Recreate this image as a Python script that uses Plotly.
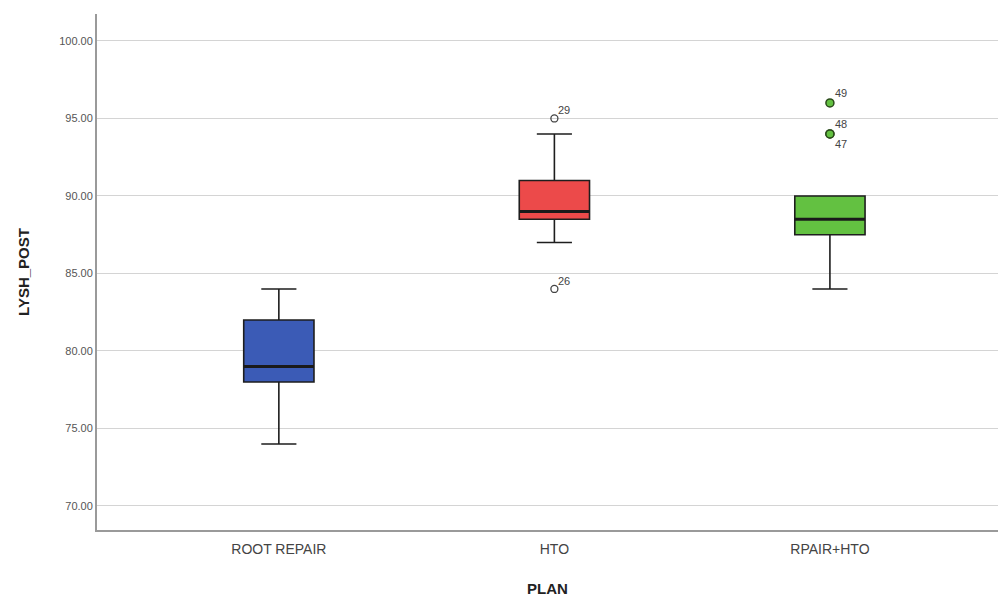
import plotly.graph_objects as go

categories = ["ROOT REPAIR", "HTO", "RPAIR+HTO"]
q1 = [78.0, 88.5, 87.5]
median = [79.0, 89.0, 88.5]
q3 = [82.0, 91.0, 90.0]
lower = [74.0, 87.0, 84.0]
upper = [84.0, 94.0, 90.0]
colors = ["#3b5bb6", "#ec4a4a", "#63c141"]

# outliers: value and case label
hto_out_vals = [95.0, 84.0]
hto_out_labels = ["29", "26"]
rp_out_vals = [96.0, 94.0, 94.0]
rp_out_labels = ["49", "48", "47"]

BOX_W = 0.255

fig = go.Figure()
for i, c in enumerate(categories):
    fig.add_trace(go.Box(
        x=[c], q1=[q1[i]], median=[median[i]], q3=[q3[i]],
        lowerfence=[lower[i]], upperfence=[upper[i]],
        fillcolor=colors[i], line=dict(color="#1e1e1e", width=1.6),
        width=BOX_W, whiskerwidth=0.5, boxpoints=False, showlegend=False,
        hoverinfo="skip"))
    fig.add_shape(type="line", xref="x", yref="y",
                  x0=i - BOX_W / 2, x1=i + BOX_W / 2, y0=median[i], y1=median[i],
                  line=dict(color="#1a1a1a", width=3))

fig.add_trace(go.Scatter(
    x=["HTO"] * len(hto_out_vals), y=hto_out_vals, mode="markers",
    marker=dict(symbol="circle-open", size=7, color="#444", line=dict(width=1.3)),
    showlegend=False, hoverinfo="skip"))
fig.add_trace(go.Scatter(
    x=["RPAIR+HTO"] * len(rp_out_vals), y=rp_out_vals, mode="markers",
    marker=dict(symbol="circle", size=8, color=colors[2], line=dict(width=1.5, color="#2a4a1a")),
    showlegend=False, hoverinfo="skip"))

for v, lab in zip(hto_out_vals, hto_out_labels):
    fig.add_annotation(x="HTO", y=v, text=lab, showarrow=False, xanchor="left",
                       yanchor="bottom", xshift=2, yshift=0,
                       font=dict(size=11, color="#444"))
shifts = {"49": (3, 2, "bottom"), "48": (3, 2, "bottom"), "47": (3, -2, "top")}
for v, lab in zip(rp_out_vals, rp_out_labels):
    xs, ys, ya = shifts[lab]
    fig.add_annotation(x="RPAIR+HTO", y=v, text=lab, showarrow=False, xanchor="left",
                       yanchor=ya, xshift=xs, yshift=ys,
                       font=dict(size=11, color="#444"))

fig.update_layout(
    width=998, height=597,
    margin=dict(l=97, r=0, t=14, b=67),
    plot_bgcolor="white", paper_bgcolor="white",
    font=dict(family="Liberation Sans, Arial, sans-serif", color="#333"),
    xaxis=dict(
        type="category", categoryorder="array", categoryarray=categories,
        range=[-0.66, 2.61], showgrid=False, showline=True, linecolor="#9a9a9a",
        linewidth=2, ticks="", tickfont=dict(size=14, color="#444"),
        ticklabelstandoff=5,
        title=dict(text="<b>PLAN</b>", font=dict(size=15, color="#222"), standoff=30),
        zeroline=False),
    yaxis=dict(
        range=[68.45, 101.74], tickvals=[70, 75, 80, 85, 90, 95, 100],
        tickformat=".2f", showgrid=True, gridcolor="#d4d4d4", gridwidth=1.3,
        showline=True, linecolor="#9a9a9a", linewidth=2, ticks="",
        tickfont=dict(size=11, color="#555"),
        title=dict(text="<b>LYSH_POST</b>", font=dict(size=15, color="#222"), standoff=26),
        zeroline=False),
)

fig.write_html("out.html", config={"displayModeBar": False},
               post_script="document.body.style.margin='0';document.body.style.overflow='hidden';")
